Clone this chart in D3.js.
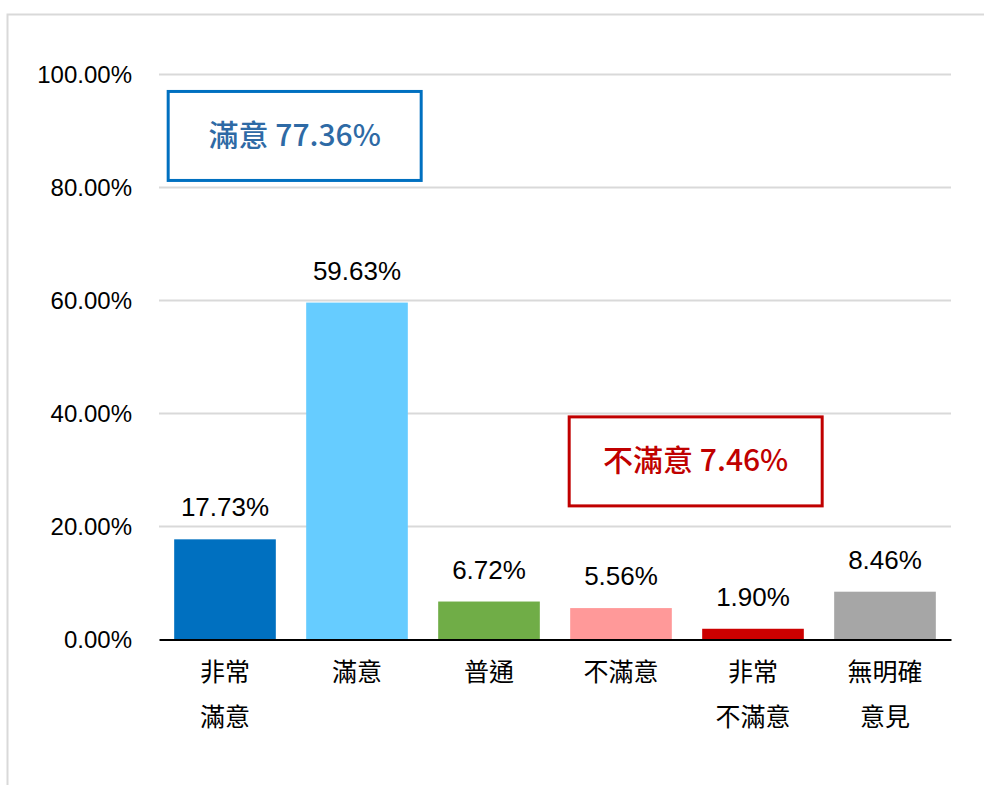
<!DOCTYPE html>
<html>
<head>
<meta charset="utf-8">
<script src="https://cdn.jsdelivr.net/npm/d3@7/dist/d3.min.js"></script>
<style>
  html, body { margin: 0; padding: 0; background: #fff; }
  svg { display: block; }
</style>
</head>
<body>
<svg id="chart" width="984" height="785"></svg>
<script>
// Satisfaction survey results (percent of respondents)
const categories = ["非常\n滿意", "滿意", "普通", "不滿意", "非常\n不滿意", "無明確\n意見"];
const values = [17.73, 59.63, 6.72, 5.56, 1.90, 8.46];
const barColors = ["#0070C0", "#66CCFF", "#70AD47", "#FF9999", "#CC0000", "#A6A6A6"];
const yTicks = [0, 20, 40, 60, 80, 100];
const summaryBoxes = [
  { label: "滿意 77.36%", color: "#0070C0", text: "#2E6AA5" },
  { label: "不滿意 7.46%", color: "#C00000", text: "#C00000" }
];

const latin = "'Liberation Sans', Arial, 'Noto Sans CJK TC', sans-serif";
const cjk = "'Liberation Sans', 'Noto Sans CJK TC', sans-serif";
const boxFont = "'Noto Sans CJK TC', sans-serif";

const svg = d3.select("#chart");

// chart frame
svg.append("rect")
  .attr("x", 7.5).attr("y", 14.5)
  .attr("width", 1200).attr("height", 1000)
  .attr("fill", "#fff").attr("stroke", "#D9D9D9").attr("stroke-width", 2);

const plot = { left: 159, right: 951, top: 74.5, bottom: 639.5 };

const x = d3.scaleBand()
  .domain(categories)
  .range([plot.left, plot.right])
  .paddingInner(0.23)
  .paddingOuter(0.115);

const y = d3.scaleLinear()
  .domain([0, 100])
  .range([plot.bottom, plot.top]);

// gridlines
svg.append("g")
  .selectAll("line")
  .data(yTicks.filter(d => d > 0))
  .join("line")
  .attr("x1", plot.left).attr("x2", plot.right)
  .attr("y1", d => y(d)).attr("y2", d => y(d))
  .attr("stroke", "#D9D9D9").attr("stroke-width", 2);

// y axis labels
const yAxis = d3.axisLeft(y)
  .tickValues(yTicks)
  .tickFormat(d => d.toFixed(2) + "%")
  .tickSize(0)
  .tickPadding(27);
const yg = svg.append("g")
  .attr("transform", `translate(${plot.left},0)`)
  .call(yAxis);
yg.select(".domain").remove();
yg.selectAll("text")
  .attr("font-family", latin)
  .attr("font-size", 24)
  .attr("fill", "#000");

// bars
const data = categories.map((c, i) => ({ c, v: values[i], color: barColors[i] }));
svg.append("g")
  .selectAll("rect")
  .data(data)
  .join("rect")
  .attr("x", d => x(d.c))
  .attr("width", x.bandwidth())
  .attr("y", d => y(d.v))
  .attr("height", d => y(0) - y(d.v))
  .attr("fill", d => d.color);

// value labels
svg.append("g")
  .selectAll("text")
  .data(data)
  .join("text")
  .attr("x", d => x(d.c) + x.bandwidth() / 2)
  .attr("y", d => y(d.v) - 23)
  .attr("text-anchor", "middle")
  .attr("font-family", latin)
  .attr("font-size", 26)
  .attr("fill", "#000")
  .text(d => d.v.toFixed(2) + "%");

// x axis
const xAxis = d3.axisBottom(x).tickSize(0).tickFormat("");
const xg = svg.append("g")
  .attr("transform", `translate(0,${plot.bottom})`)
  .call(xAxis);
xg.select(".domain").attr("stroke", "#000").attr("stroke-width", 2);

// category labels (two lines where needed)
const catLabels = svg.append("g")
  .selectAll("text")
  .data(categories)
  .join("text")
  .attr("x", d => x(d) + x.bandwidth() / 2)
  .attr("y", 681)
  .attr("text-anchor", "middle")
  .attr("font-family", cjk)
  .attr("font-size", 25)
  .attr("fill", "#000");
catLabels.each(function(d) {
  const t = d3.select(this);
  d.split("\n").forEach((line, i) => {
    t.append("tspan")
      .attr("x", x(d) + x.bandwidth() / 2)
      .attr("dy", i === 0 ? 0 : 45)
      .text(line);
  });
});

// summary boxes
const boxX = [x(categories[0]) - 6, x(categories[3]) - 1];
const boxY = [y(97), y(39.4)];
const boxW = 253, boxH = 89;
summaryBoxes.forEach((b, i) => {
  const g = svg.append("g").attr("transform", `translate(${boxX[i]},${boxY[i]})`);
  g.append("rect")
    .attr("width", boxW).attr("height", boxH)
    .attr("fill", "#fff")
    .attr("stroke", b.color).attr("stroke-width", 3);
  g.append("text")
    .attr("x", boxW / 2).attr("y", boxH / 2 + 10)
    .attr("text-anchor", "middle")
    .attr("font-family", boxFont)
    .attr("font-weight", 500)
    .attr("font-size", 30)
    .attr("fill", b.text)
    .text(b.label);
});
</script>
</body>
</html>
